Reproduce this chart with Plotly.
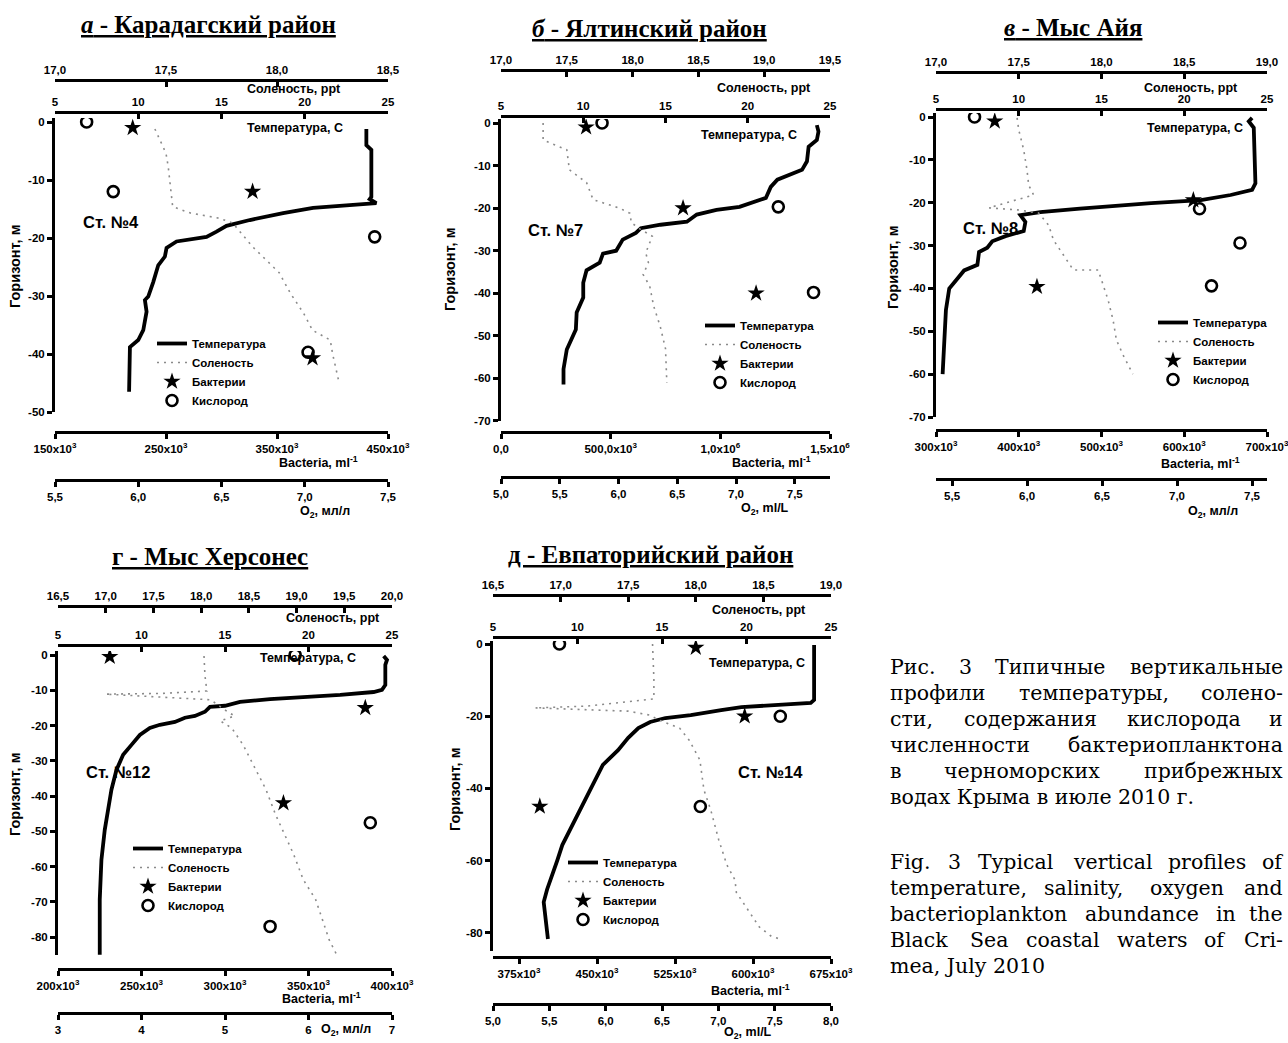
import plotly.graph_objects as go

W, H = 1288, 1043

# ---------------- DATA ----------------
# Panel а – Карадагский район (Ст. №4)
a_temp_T = [23.7, 23.7, 24.0, 24.0, 23.9, 24.3, 20.5, 18.7, 16.7, 15.3, 14.7, 14.1, 12.3, 11.7, 11.6, 11.2, 10.9, 10.6, 10.4, 10.5, 10.3, 10.0, 9.5, 9.45]
a_temp_d = [-1.2, -4.0, -4.8, -12.9, -13.3, -14.0, -14.8, -15.7, -16.9, -17.9, -18.9, -19.8, -20.6, -21.7, -23.2, -24.7, -27.6, -30.1, -30.7, -32.7, -35.9, -37.6, -38.8, -46.5]
a_sal_S = [17.45, 17.50, 17.51, 17.52, 17.53, 17.61, 17.74, 17.80, 17.89, 18.01, 18.06, 18.12, 18.16, 18.24, 18.25, 18.28]
a_sal_d = [-1.2, -5.4, -7.7, -11.7, -14.6, -15.7, -16.6, -17.4, -21.5, -26.0, -29.5, -33.0, -35.9, -37.6, -39.9, -45.0]
a_bac_B = [220e3, 328e3, 382e3]
a_bac_d = [-1.0, -12.0, -40.7]
a_ox_O = [5.69, 5.85, 7.42, 7.02]
a_ox_d = [0.0, -12.0, -19.8, -39.7]

# Panel б – Ялтинский район (Ст. №7)
b_temp_T = [24.2, 24.3, 24.2, 23.7, 23.6, 23.3, 21.8, 21.4, 21.1, 19.5, 18.1, 16.9, 16.3, 14.7, 13.5, 13.2, 12.4, 12.0, 11.2, 11.0, 10.2, 10.0, 10.0, 9.6, 9.55, 9.0, 8.8, 8.8]
b_temp_d = [-0.5, -2.0, -4.0, -5.6, -9.0, -11.0, -13.3, -15.0, -17.6, -19.7, -20.4, -21.5, -23.2, -23.9, -24.7, -25.8, -27.4, -30.0, -30.7, -32.8, -34.6, -37.5, -41.0, -44.5, -48.5, -53.2, -57.8, -61.4]
b_sal_S = [17.32, 17.32, 17.50, 17.52, 17.65, 17.70, 17.90, 17.98, 17.99, 18.06, 18.15, 18.10, 18.12, 18.08, 18.13, 18.16, 18.21, 18.25, 18.26]
b_sal_d = [0.0, -4.0, -6.3, -11.0, -14.0, -18.0, -20.0, -21.2, -23.4, -25.0, -26.6, -30.5, -32.8, -35.6, -38.3, -43.0, -47.8, -53.0, -61.0]
b_bac_B = [388e3, 830e3, 1163e3]
b_bac_d = [-1.0, -20.0, -40.0]
b_ox_O = [5.86, 7.36, 7.66]
b_ox_d = [0.0, -19.7, -39.8]

# Panel в – Мыс Айя (Ст. №8)
c_temp_T = [24.1, 23.9, 24.2, 24.3, 24.1, 22.8, 21.0, 18.0, 13.7, 11.3, 10.1, 10.4, 10.3, 9.2, 8.4, 8.1, 7.6, 7.5, 6.7, 6.3, 5.8, 5.6, 5.5, 5.4]
c_temp_d = [-0.2, -1.0, -2.5, -15.5, -17.0, -18.2, -19.4, -20.1, -21.4, -22.2, -22.9, -24.5, -26.6, -27.8, -29.0, -30.5, -31.5, -34.5, -35.8, -37.6, -40.0, -45.0, -52.0, -60.0]
c_sal_S = [17.49, 17.50, 17.53, 17.55, 17.56, 17.59, 17.38, 17.32, 17.50, 17.62, 17.68, 17.71, 17.77, 17.83, 17.98, 18.02, 18.04, 18.07, 18.09, 18.13, 18.19]
c_sal_d = [-0.2, -3.0, -7.7, -12.4, -15.9, -18.2, -20.5, -21.2, -21.7, -22.4, -25.2, -28.7, -32.2, -35.7, -35.7, -40.3, -42.7, -47.4, -52.0, -55.5, -60.0]
c_bac_B = [371e3, 611e3, 422e3]
c_bac_d = [-1.0, -19.4, -39.6]
c_ox_O = [5.65, 7.15, 7.42, 7.23]
c_ox_d = [0.0, -21.4, -29.4, -39.4]

# Panel г – Мыс Херсонес (Ст. №12)
d_temp_T = [24.5, 24.7, 24.6, 24.6, 24.4, 23.9, 21.9, 19.5, 17.7, 15.9, 15.0, 14.1, 13.8, 13.2, 12.6, 12.0, 11.1, 10.5, 9.9, 9.4, 8.9, 8.5, 8.2, 8.0, 7.8, 7.6, 7.5, 7.5]
d_temp_d = [-0.3, -1.4, -2.8, -8.5, -9.9, -10.5, -11.3, -11.9, -12.5, -13.3, -14.4, -14.7, -16.1, -17.3, -17.8, -19.0, -19.8, -20.7, -22.7, -25.5, -28.3, -32.6, -38.2, -43.9, -49.6, -58.1, -69.4, -85.5]
d_sal_S = [18.03, 18.04, 18.06, 17.60, 17.00, 18.10, 18.25, 18.30, 18.35, 18.20, 18.32, 18.44, 18.52, 18.60, 18.68, 18.78, 18.87, 18.97, 19.07, 19.20, 19.27, 19.34, 19.42]
d_sal_d = [-0.3, -5.9, -10.2, -10.9, -11.1, -12.7, -15.6, -16.4, -17.3, -18.7, -20.7, -25.5, -29.7, -34.0, -38.2, -45.3, -50.9, -56.6, -63.7, -69.4, -75.0, -80.7, -85.0]
d_bac_B = [231e3, 384e3, 335e3]
d_bac_d = [-0.5, -15.0, -42.0]
d_ox_O = [5.84, 6.74, 5.54]
d_ox_d = [0.0, -47.6, -77.0]

# Panel д – Евпаторийский район (Ст. №14)
e_temp_T = [24.0, 24.0, 23.8, 22.0, 19.7, 18.5, 16.7, 15.2, 14.3, 13.6, 13.0, 12.4, 11.5, 10.9, 10.3, 9.7, 9.1, 8.8, 8.5, 8.2, 8.0, 8.1, 8.25]
e_temp_d = [-0.3, -15.5, -16.3, -16.9, -17.5, -18.3, -19.7, -20.5, -21.6, -23.3, -26.0, -29.4, -33.5, -39.0, -44.6, -50.1, -55.7, -60.0, -64.0, -68.0, -71.5, -75.0, -81.7]
e_sal_S = [17.68, 17.69, 17.69, 17.20, 16.81, 17.50, 17.66, 17.73, 17.88, 17.95, 18.03, 18.06, 18.11, 18.17, 18.23, 18.29, 18.30, 18.39, 18.47, 18.56, 18.63]
e_sal_d = [0.0, -9.7, -15.2, -17.2, -17.7, -18.6, -19.7, -21.1, -23.3, -26.6, -32.1, -40.4, -45.9, -54.3, -61.2, -65.4, -68.8, -74.0, -78.4, -81.0, -81.8]
e_bac_B = [545e3, 592e3, 395e3]
e_bac_d = [-1.0, -20.0, -45.0]
e_ox_O = [5.59, 7.55, 6.84]
e_ox_d = [0.0, -20.0, -45.0]

# Tick labels
a_sal_ticks = [17.0, 17.5, 18.0, 18.5]
b_sal_ticks = [17.0, 17.5, 18.0, 18.5, 19.0, 19.5]
c_sal_ticks = [17.0, 17.5, 18.0, 18.5, 19.0]
d_sal_ticks = [16.5, 17.0, 17.5, 18.0, 18.5, 19.0, 19.5, 20.0]
e_sal_ticks = [16.5, 17.0, 17.5, 18.0, 18.5, 19.0]
temp_ticks = [5, 10, 15, 20, 25]
a_bac_ticks = [150e3, 250e3, 350e3, 450e3]
a_bac_text = ["150x10<sup>3</sup>", "250x10<sup>3</sup>", "350x10<sup>3</sup>", "450x10<sup>3</sup>"]
b_bac_ticks = [0, 500e3, 1.0e6, 1.5e6]
b_bac_text = ["0,0", "500,0x10<sup>3</sup>", "1,0x10<sup>6</sup>", "1,5x10<sup>6</sup>"]
c_bac_ticks = [300e3, 400e3, 500e3, 600e3, 700e3]
c_bac_text = ["300x10<sup>3</sup>", "400x10<sup>3</sup>", "500x10<sup>3</sup>", "600x10<sup>3</sup>", "700x10<sup>3</sup>"]
d_bac_ticks = [200e3, 250e3, 300e3, 350e3, 400e3]
d_bac_text = ["200x10<sup>3</sup>", "250x10<sup>3</sup>", "300x10<sup>3</sup>", "350x10<sup>3</sup>", "400x10<sup>3</sup>"]
e_bac_ticks = [375e3, 450e3, 525e3, 600e3, 675e3]
e_bac_text = ["375x10<sup>3</sup>", "450x10<sup>3</sup>", "525x10<sup>3</sup>", "600x10<sup>3</sup>", "675x10<sup>3</sup>"]
a_ox_ticks = [5.5, 6.0, 6.5, 7.0, 7.5]
b_ox_ticks = [5.0, 5.5, 6.0, 6.5, 7.0, 7.5]
c_ox_ticks = [5.5, 6.0, 6.5, 7.0, 7.5]
d_ox_ticks = [3, 4, 5, 6, 7]
e_ox_ticks = [5.0, 5.5, 6.0, 6.5, 7.0, 7.5, 8.0]
a_depth_ticks = [0, -10, -20, -30, -40, -50]
b_depth_ticks = [0, -10, -20, -30, -40, -50, -60, -70]
c_depth_ticks = [0, -10, -20, -30, -40, -50, -60, -70]
d_depth_ticks = [0, -10, -20, -30, -40, -50, -60, -70, -80]
e_depth_ticks = [0, -20, -40, -60, -80]

legend_names = ["Температура", "Соленость", "Бактерии", "Кислород"]

caption_ru = ["Рис. 3 Типичные вертикальные", "профили температуры, солено-", "сти, содержания кислорода и",
              "численности бактериопланктона", "в черноморских прибрежных", "водах Крыма в июле 2010 г."]
caption_en = ["Fig. 3 Typical vertical profiles of", "temperature, salinity, oxygen and",
              "bacterioplankton abundance in the", "Black Sea coastal waters of Cri-", "mea, July 2010"]


def comma(v, nd=1):
    return f"{v:.{nd}f}".replace(".", ",")


# ---------------- LAYOUT HELPERS ----------------
def px(x):
    return x / W


def py(y):
    return 1 - y / H


SANS = "Liberation Sans"
SERIF = "Liberation Serif"
TICKFONT = dict(family=SANS, size=11.5, color="black", weight="bold")

panels = [
    dict(title="<u><i>а</i> - Карадагский район</u>", tx=208, ty=24,
         x0=55, x1=388, d0=122, ppm=5.8, ymin=-50, ytop=118,
         temp_y=112, sal_y=80, bac_y=432, ox_y=480,
         sal_rng=[17.0, 18.5], bac_rng=[150e3, 450e3], ox_rng=[5.5, 7.5],
         T=a_temp_T, Td=a_temp_d, S=a_sal_S, Sd=a_sal_d, B=a_bac_B, Bd=a_bac_d, O=a_ox_O, Od=a_ox_d,
         sal_ticks=a_sal_ticks, bac_ticks=a_bac_ticks, bac_text=a_bac_text, ox_ticks=a_ox_ticks, ox_nd=1,
         depth_ticks=a_depth_ticks, ox_title="O<sub>2</sub>, мл/л", ox_tx=325, ox_ty=512,
         sal_title_x=343, sal_title_y=89, temp_title=(295, 128), bac_title=(360, 462),
         station="Ст. №4", st=(111, 222), ytitle=(15, 267), leg=(152, 329)),
    dict(title="<u><i>б</i> - Ялтинский район</u>", tx=649, ty=29,
         x0=501, x1=830, d0=123, ppm=4.257, ymin=-70, ytop=119,
         temp_y=116, sal_y=70, bac_y=432, ox_y=477,
         sal_rng=[17.0, 19.5], bac_rng=[0, 1.5e6], ox_rng=[5.0, 7.8],
         T=b_temp_T, Td=b_temp_d, S=b_sal_S, Sd=b_sal_d, B=b_bac_B, Bd=b_bac_d, O=b_ox_O, Od=b_ox_d,
         sal_ticks=b_sal_ticks, bac_ticks=b_bac_ticks, bac_text=b_bac_text, ox_ticks=b_ox_ticks, ox_nd=1,
         depth_ticks=b_depth_ticks, ox_title="O<sub>2</sub>, ml/L", ox_tx=765, ox_ty=509,
         sal_title_x=813, sal_title_y=88, temp_title=(749, 135), bac_title=(813, 462),
         station="Ст. №7", st=(555, 230), ytitle=(450, 270), leg=(700, 311)),
    dict(title="<u><i>в</i> - Мыс Айя</u>", tx=1073, ty=28,
         x0=936, x1=1267, d0=117, ppm=4.286, ymin=-70, ytop=113,
         temp_y=109, sal_y=72, bac_y=430, ox_y=479,
         sal_rng=[17.0, 19.0], bac_rng=[300e3, 700e3], ox_rng=[5.393, 7.6],
         T=c_temp_T, Td=c_temp_d, S=c_sal_S, Sd=c_sal_d, B=c_bac_B, Bd=c_bac_d, O=c_ox_O, Od=c_ox_d,
         sal_ticks=c_sal_ticks, bac_ticks=c_bac_ticks, bac_text=c_bac_text, ox_ticks=c_ox_ticks, ox_nd=1,
         depth_ticks=c_depth_ticks, ox_title="O<sub>2</sub>, мл/л", ox_tx=1213, ox_ty=512,
         sal_title_x=1240, sal_title_y=88, temp_title=(1195, 128), bac_title=(1242, 463),
         station="Ст. №8", st=(990, 228), ytitle=(893, 268), leg=(1153, 308)),
    dict(title="<u>г - Мыс Херсонес</u>", tx=210, ty=556,
         x0=58, x1=392, d0=655, ppm=3.525, ymin=-85, ytop=651,
         temp_y=645, sal_y=606, bac_y=969, ox_y=1013,
         sal_rng=[16.5, 20.0], bac_rng=[200e3, 400e3], ox_rng=[3, 7],
         T=d_temp_T, Td=d_temp_d, S=d_sal_S, Sd=d_sal_d, B=d_bac_B, Bd=d_bac_d, O=d_ox_O, Od=d_ox_d,
         sal_ticks=d_sal_ticks, bac_ticks=d_bac_ticks, bac_text=d_bac_text, ox_ticks=d_ox_ticks, ox_nd=0,
         depth_ticks=d_depth_ticks, ox_title="O<sub>2</sub>, мл/л", ox_tx=346, ox_ty=1030,
         sal_title_x=382, sal_title_y=618, temp_title=(308, 658), bac_title=(363, 998),
         station="Ст. №12", st=(118, 772), ytitle=(15, 795), leg=(128, 834)),
    dict(title="<u>д - Евпаторийский район</u>", tx=650, ty=554,
         x0=493, x1=831, d0=644, ppm=3.61, ymin=-85, ytop=641,
         temp_y=637, sal_y=595, bac_y=957, ox_y=1004,
         sal_rng=[16.5, 19.0], bac_rng=[350e3, 675e3], ox_rng=[5.0, 8.0],
         T=e_temp_T, Td=e_temp_d, S=e_sal_S, Sd=e_sal_d, B=e_bac_B, Bd=e_bac_d, O=e_ox_O, Od=e_ox_d,
         sal_ticks=e_sal_ticks, bac_ticks=e_bac_ticks, bac_text=e_bac_text, ox_ticks=e_ox_ticks, ox_nd=1,
         depth_ticks=e_depth_ticks, ox_title="O<sub>2</sub>, ml/L", ox_tx=748, ox_ty=1033,
         sal_title_x=808, sal_title_y=610, temp_title=(757, 663), bac_title=(792, 990),
         station="Ст. №14", st=(770, 772), ytitle=(455, 790), leg=(563, 848)),
]

fig = go.Figure()
layout = dict(template="none", width=W, height=H, margin=dict(l=0, r=0, t=0, b=0, autoexpand=False),
              paper_bgcolor="white", plot_bgcolor="rgba(0,0,0,0)", showlegend=True,
              annotations=[], shapes=[])

base_axis = dict(showline=True, linecolor="black", linewidth=3, showgrid=False, zeroline=False,
                 automargin=False, ticklen=5, tickwidth=2.5, tickcolor="black", tickfont=TICKFONT,
                 fixedrange=True, ticklabeloverflow="allow")


def xname(n):
    return "xaxis" if n == 1 else f"xaxis{n}"


def xr(n):
    return "x" if n == 1 else f"x{n}"


for i, p in enumerate(panels):
    k = 4 * i + 1
    xm = xr(k)
    ynm = f"y{i+1}" if i > 0 else "y"
    yname = "yaxis" if i == 0 else f"yaxis{i+1}"
    dom = [px(p["x0"]), px(p["x1"])]
    ymax = (p["d0"] - p["ytop"]) / p["ppm"]
    ybot = p["d0"] + (-p["ymin"]) * p["ppm"]

    layout[xname(k)] = dict(base_axis, domain=dom, range=[5, 25], side="top", anchor="free",
                            position=py(p["temp_y"]), ticks="inside", tickvals=temp_ticks,
                            ticktext=[str(v) for v in temp_ticks])
    layout[xname(k + 1)] = dict(base_axis, overlaying=xm, range=p["sal_rng"], side="top", anchor="free",
                                position=py(p["sal_y"]), ticks="inside", tickvals=p["sal_ticks"],
                                ticktext=[comma(v) for v in p["sal_ticks"]])
    layout[xname(k + 2)] = dict(base_axis, overlaying=xm, range=p["bac_rng"], side="bottom", anchor="free",
                                position=py(p["bac_y"]), ticks="outside", tickvals=p["bac_ticks"],
                                ticktext=p["bac_text"])
    layout[xname(k + 3)] = dict(base_axis, overlaying=xm, range=p["ox_rng"], side="bottom", anchor="free",
                                position=py(p["ox_y"]), ticks="outside", tickvals=p["ox_ticks"],
                                ticktext=[comma(v, p["ox_nd"]) for v in p["ox_ticks"]])
    layout[yname] = dict(base_axis, domain=[py(ybot), py(p["ytop"])], range=[p["ymin"], ymax],
                         anchor=xm, side="left", ticks="outside", tickvals=p["depth_ticks"],
                         ticktext=[str(v) for v in p["depth_ticks"]])

    leg = "legend" if i == 0 else f"legend{i+1}"
    layout[leg] = dict(x=px(p["leg"][0]), y=py(p["leg"][1]), xanchor="left", yanchor="top",
                       bgcolor="rgba(0,0,0,0)", borderwidth=0, tracegroupgap=0,
                       font=dict(family=SANS, size=11.5, color="black", weight="bold"))

    fig.add_trace(go.Scatter(x=p["T"], y=p["Td"], xaxis=xr(k), yaxis=ynm, mode="lines",
                             line=dict(color="black", width=3.8), name=legend_names[0], legend=leg))
    fig.add_trace(go.Scatter(x=p["S"], y=p["Sd"], xaxis=xr(k + 1), yaxis=ynm, mode="lines",
                             line=dict(color="#8a8a8a", width=1.6, dash="2px,5px"), name=legend_names[1], legend=leg))
    fig.add_trace(go.Scatter(x=p["B"], y=p["Bd"], xaxis=xr(k + 2), yaxis=ynm, mode="markers",
                             marker=dict(symbol="star", size=13, color="black", line=dict(width=0)),
                             name=legend_names[2], legend=leg))
    fig.add_trace(go.Scatter(x=p["O"], y=p["Od"], xaxis=xr(k + 3), yaxis=ynm, mode="markers",
                             marker=dict(symbol="circle-open", size=11, color="black", line=dict(width=2.6, color="black")),
                             name=legend_names[3], legend=leg))

    ann = layout["annotations"]
    ann.append(dict(text=p["title"], x=px(p["tx"]), y=py(p["ty"]), xref="paper", yref="paper",
                    showarrow=False, xanchor="center", yanchor="middle",
                    font=dict(family=SERIF, size=25, color="black", weight="bold")))
    ann.append(dict(text="Соленость, ppt", x=px(p["sal_title_x"]), y=py(p["sal_title_y"]), xref="paper",
                    yref="paper", showarrow=False, xanchor="right", yanchor="middle",
                    font=dict(family=SANS, size=12.5, color="black", weight="bold")))
    ann.append(dict(text="Температура, С", x=px(p["temp_title"][0]), y=py(p["temp_title"][1]), xref="paper",
                    yref="paper", showarrow=False, xanchor="center", yanchor="middle",
                    font=dict(family=SANS, size=12.5, color="black", weight="bold")))
    ann.append(dict(text="Bacteria, ml<sup>-1</sup>", x=px(p["bac_title"][0]), y=py(p["bac_title"][1]),
                    xref="paper", yref="paper", showarrow=False, xanchor="right", yanchor="middle",
                    font=dict(family=SANS, size=12.5, color="black", weight="bold")))
    ann.append(dict(text=p["ox_title"], x=px(p["ox_tx"]), y=py(p["ox_ty"]), xref="paper", yref="paper",
                    showarrow=False, xanchor="center", yanchor="middle",
                    font=dict(family=SANS, size=12.5, color="black", weight="bold")))
    ann.append(dict(text=p["station"], x=px(p["st"][0]), y=py(p["st"][1]), xref="paper", yref="paper",
                    showarrow=False, xanchor="center", yanchor="middle",
                    font=dict(family=SANS, size=16.5, color="black", weight="bold")))
    ann.append(dict(text="Горизонт, м", x=px(p["ytitle"][0]), y=py(p["ytitle"][1]), xref="paper", yref="paper",
                    showarrow=False, xanchor="center", yanchor="middle", textangle=-90,
                    font=dict(family=SANS, size=14.5, color="black", weight="bold")))

# ---------------- CAPTION (justified column) ----------------
CAP_SIZE = 20.5
CAP_WIDEN = 1.28   # DejaVu Serif is ~1.28x wider than Times metrics
cap_font = dict(family="DejaVu Serif", size=CAP_SIZE, color="black")
COL_L, COL_R = 888, 1285
_w = {}
_w.update({c: v for c, v in zip("abcdefghijklmnopqrstuvwxyz",
                                [444, 500, 444, 500, 444, 333, 500, 500, 278, 278, 500, 278, 778, 500, 500, 500,
                                 500, 333, 389, 278, 500, 500, 722, 500, 500, 444])})
_w.update({c: v for c, v in zip("абвгдеёжзийклмнопрстуфхцчшщъыьэюя",
                                [444, 507, 472, 410, 509, 444, 444, 691, 395, 535, 535, 486, 499, 633, 535, 500,
                                 535, 500, 444, 437, 500, 648, 500, 535, 503, 770, 770, 517, 672, 456, 429, 747, 486])})
_w.update({"Р": 556, "Т": 611, "К": 667, "F": 556, "B": 667, "S": 556, "C": 667, "J": 389,
           ".": 250, ",": 250, "-": 333, " ": 250})
for dgt in "0123456789":
    _w[dgt] = 500


def text_w(s):
    return sum(_w.get(ch, 500) for ch in s) * CAP_SIZE / 1000.0 * CAP_WIDEN


def add_caption(lines, ys):
    for j, (line, yy) in enumerate(zip(lines, ys)):
        words = line.split()
        last = (j == len(lines) - 1)
        if last or len(words) == 1:
            layout["annotations"].append(dict(text=line, x=px(COL_L), y=py(yy), xref="paper", yref="paper",
                                              showarrow=False, xanchor="left", yanchor="middle", font=cap_font))
            continue
        widths = [text_w(w_) for w_ in words]
        gap = (COL_R - COL_L - sum(widths)) / (len(words) - 1)
        xcur = COL_L
        for n, (wd, wl) in enumerate(zip(words, widths)):
            if n == len(words) - 1:
                layout["annotations"].append(dict(text=wd, x=px(COL_R), y=py(yy), xref="paper", yref="paper",
                                                  showarrow=False, xanchor="right", yanchor="middle", font=cap_font))
            else:
                layout["annotations"].append(dict(text=wd, x=px(xcur), y=py(yy), xref="paper", yref="paper",
                                                  showarrow=False, xanchor="left", yanchor="middle", font=cap_font))
            xcur += wl + gap


add_caption(caption_ru, [667, 693, 719, 745, 771, 797])
add_caption(caption_en, [862, 888, 914, 940, 966])

fig.update_layout(**layout)
fig.write_html("out.html", config={"displayModeBar": False},
               post_script="document.body.style.margin='0px';document.body.style.overflow='hidden';")
